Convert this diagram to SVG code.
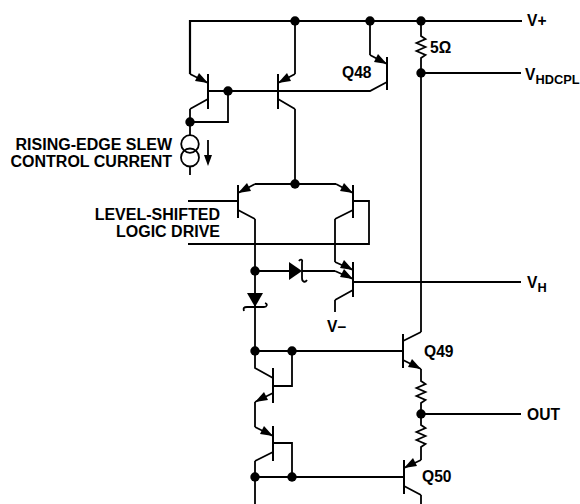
<svg xmlns="http://www.w3.org/2000/svg" width="580" height="504" viewBox="0 0 580 504">
<style>
.w{fill:none;stroke:#000;stroke-width:1.8;stroke-linejoin:miter}
.r{stroke-width:2.2}
.b{fill:none;stroke:#000;stroke-width:2}
.d{fill:#000}
text{font-family:"Liberation Sans",Arial,sans-serif;font-weight:700;font-size:15.6px;fill:#000}
.s{font-size:12.8px}
.e{text-anchor:end;font-size:16px}
</style>
<defs>
<circle id="dot" class="d" r="4.7"/>
<path id="res" class="w" d="M0 0v3l4.5 3-9 4 9 4-9 4 9 4-4.5 3v3"/>
</defs>
<g id="connectors">
<path class="w r" d="M190 74V21H522"/>
<path class="w" d="M295 21V74M370 21V55M421 21V33M421 61V332M421 73H521"/>
<path class="w" d="M208 91H370L387 82"/>
<path class="w" d="M190 109V122H228V91M190 122V136M190 166V175"/>
<path class="w" d="M295 109V184M188 201H238M188 244H369V201H353"/>
<path class="w r" d="M255 184H336"/>
<path class="w" d="M255 219V351M335 219V262M255 271H289M302 271H335M353 282H521M335 300V312"/>
<path class="w" d="M255 351H403M292 351V386H273M255 402V427M273 443H292V477M255 477H404M255 461V504"/>
<path class="w" d="M421 369V378M421 406V422M421 450V460M421 414H521M421 495V504"/>
</g>
<g id="q-left"><path class="b" d="M208 74V109"/><path class="w" d="M190 74L208 83M208 99L190 109"/><path class="d" d="M208 83L195 81L199 73Z"/></g>
<g id="q-mirror"><path class="b" d="M278 74V109"/><path class="w" d="M295 74L278 83M278 99L295 109"/><path class="d" d="M278 83L291 81L287 73Z"/></g>
<g id="q48"><path class="b" d="M387 57V90"/><path class="w" d="M370 55L387 64"/><path class="d" d="M387 64L374 62L378 54Z"/></g>
<g id="q-diff-l"><path class="b" d="M238 185V218"/><path class="w" d="M255 184L238 193M238 210L255 219"/><path class="d" d="M238 193L251 191L247 183Z"/></g>
<g id="q-diff-r"><path class="b" d="M353 185V218"/><path class="w" d="M336 184L353 193M353 210L335 219"/><path class="d" d="M353 193L340 191L344 183Z"/></g>
<g id="q-vh"><path class="b" d="M353 262V297"/><path class="w" d="M335 262L353 270M335 271L353 279M353 290L335 300"/><path class="d" d="M353 270L340 268L344 260ZM353 279L340 277L344 269Z"/></g>
<g id="q49"><path class="b" d="M403 334V368"/><path class="w" d="M403 341L421 332M403 360L421 369"/><path class="d" d="M421 369L408 367L412 359Z"/></g>
<g id="q50"><path class="b" d="M404 460V494"/><path class="w" d="M421 460L404 468M404 486L421 495"/><path class="d" d="M404 468L417 466L413 458Z"/></g>
<g id="q-stack-1"><path class="b" d="M273 368V403"/><path class="w" d="M255 351V368L273 378M273 393L255 402"/><path class="d" d="M255 402L268 400L264 392Z"/></g>
<g id="q-stack-2"><path class="b" d="M273 426V461"/><path class="w" d="M255 427L273 436M273 452L255 461"/><path class="d" d="M273 436L260 434L264 426Z"/></g>
<g id="r-5"><use href="#res" x="421" y="33"/></g>
<g id="r-up"><use href="#res" x="421" y="378"/></g>
<g id="r-low"><use href="#res" x="421" y="422"/></g>
<g id="source"><circle class="w" cx="190" cy="144" r="8.8"/><circle class="w" cx="190" cy="157.5" r="9"/><path class="w" d="M208 140V158"/><path class="d" d="M204 155H212L208 166Z"/></g>
<g id="diode-h"><path class="d" d="M289 262V280L302 271Z"/><path class="w" d="M299 261C300 259 303 259 302 262V278C302 282 305 283 307 280"/></g>
<g id="diode-v"><path class="d" d="M247 293H263L255 307Z"/><path class="w" d="M244 311C243 308 244 307 247 307H264C267 307 268 304 265 303"/></g>
<g id="dots">
<use href="#dot" x="295" y="21"/><use href="#dot" x="370" y="21"/><use href="#dot" x="421" y="21"/>
<use href="#dot" x="421" y="73"/><use href="#dot" x="228" y="91"/><use href="#dot" x="190" y="122"/>
<use href="#dot" x="295" y="184"/><use href="#dot" x="255" y="271"/><use href="#dot" x="255" y="351"/>
<use href="#dot" x="292" y="351"/><use href="#dot" x="421" y="414"/><use href="#dot" x="255" y="477"/><use href="#dot" x="292" y="477"/>
</g>
<g id="labels">
<text x="527" y="26">V+</text>
<text x="430" y="53">5Ω</text>
<text x="525" y="80">V<tspan class="s" dy="3.5">HDCPL</tspan></text>
<text x="342" y="78">Q48</text>
<text class="e" x="172" y="150">RISING-EDGE SLEW</text>
<text class="e" x="172" y="167">CONTROL CURRENT</text>
<text class="e" x="220" y="220">LEVEL-SHIFTED</text>
<text class="e" x="220" y="237">LOGIC DRIVE</text>
<text x="527" y="288">V<tspan class="s" dy="4">H</tspan></text>
<text x="327" y="332">V–</text>
<text x="424" y="357">Q49</text>
<text x="527" y="420">OUT</text>
<text x="422" y="482">Q50</text>
</g>
</svg>
